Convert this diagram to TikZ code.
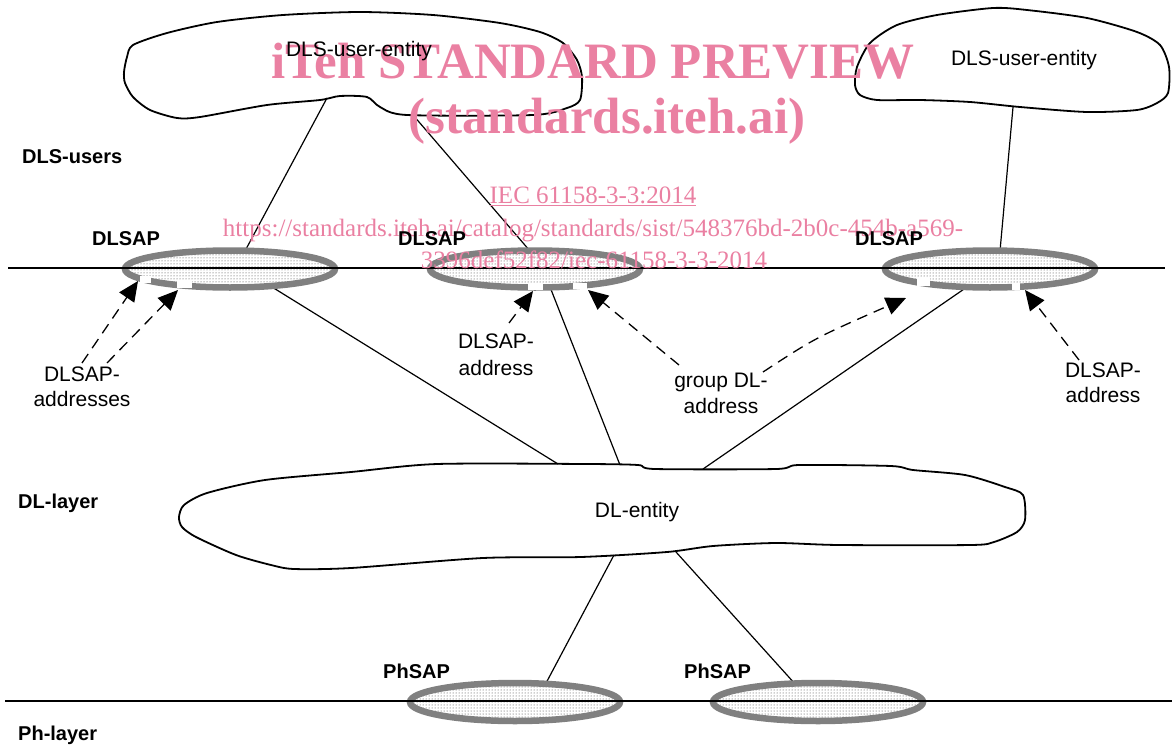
\documentclass[tikz,border=0pt]{standalone}
\usepackage{fontspec}
\setmainfont{Liberation Sans}
\newfontfamily\wmfont{Liberation Serif}
\usetikzlibrary{shapes.geometric,patterns,arrows.meta}
\definecolor{sapgray}{RGB}{128,128,128}
\definecolor{wmpink}{RGB}{234,128,162}
\begin{document}
\begin{tikzpicture}[x=1pt,y=-1pt,
  cloudline/.style={draw=black,line width=1.8pt,line join=round},
  conn/.style={draw=black,line width=1.2pt},
  layerline/.style={draw=black,line width=1.4pt},
  sap/.style={ellipse,draw=sapgray,line width=6.5pt,pattern=dots,pattern color=black!80,
    minimum width=210pt,minimum height=37pt,inner sep=0pt},
  gapbox/.style={fill=white,draw=none},
  addr/.style={draw=black,line width=1.3pt,dash pattern=on 11pt off 7pt,
    -{Triangle[length=20pt,width=18pt]}},
  lbl/.style={font=\fontsize{21}{26}\selectfont,inner sep=0pt,anchor=base},
  blbl/.style={font=\fontsize{20}{24}\selectfont\bfseries,inner sep=0pt,anchor=base west},
  wm/.style={text=wmpink,inner sep=0pt,anchor=base},
]
\useasboundingbox (0,0) rectangle (1172,744);

% ---- clouds ----
\draw[cloudline] plot[smooth cycle,tension=0.45] coordinates {
 (124,72) (127,57) (133,45) (167,33) (217,22) (283,15) (360,12) (433,15) (500,23)
 (540,32) (563,43) (577,60) (582,77) (580,100) (567,108) (533,115) (407,115)
 (380,107) (367,97) (340,96) (320,100) (267,105) (200,117) (177,118) (150,110)
 (133,97) (125,83)};
\draw[cloudline] plot[smooth cycle,tension=0.45] coordinates {
 (855,85) (857,67) (870,43) (897,25) (937,15) (993,8) (1027,10) (1087,18)
 (1137,32) (1160,45) (1169,67) (1168,93) (1157,103) (1137,110) (1087,112)
 (1020,107) (970,102) (920,100) (877,100) (860,95)};
\draw[cloudline] plot[smooth cycle,tension=0.45] coordinates {
 (179,517) (184,505) (207,493) (265,480) (351,472) (437,464) (586,464) (638,465)
 (655,469) (776,469) (799,465) (891,466) (913,470) (965,475) (1005,487)
 (1023,495) (1025,520) (1017,532) (994,542) (971,545) (839,545) (776,543)
 (713,546) (667,552) (581,557) (483,558) (351,568) (294,569) (271,565)
 (236,555) (196,537) (182,527)};

% ---- connector end points ----
\coordinate (u1a) at (327,98);
\coordinate (u1b) at (413,115);
\coordinate (u2a) at (1013,107);
\coordinate (s1t) at (245,251);
\coordinate (s2t) at (530,251);
\coordinate (s3t) at (1000,251);
\coordinate (s1b) at (272,287);
\coordinate (s2b) at (550,287);
\coordinate (s3b) at (967,287);
\coordinate (dla) at (558,464);
\coordinate (dlb) at (620,465);
\coordinate (dlc) at (703,469);
\coordinate (dld) at (614,555);
\coordinate (dle2) at (676,552);
\coordinate (p1t) at (545,685);
\coordinate (p2t) at (796,685);

\draw[conn] (u1a) -- (s1t);
\draw[conn] (u1b) -- (s2t);
\draw[conn] (u2a) -- (s3t);
\draw[conn] (s1b) -- (dla);
\draw[conn] (s2b) -- (dlb);
\draw[conn] (s3b) -- (dlc);
\draw[conn] (dld) -- (p1t);
\draw[conn] (dle2) -- (p2t);

% ---- service access points ----
\node[sap] (sap1) at (230,269) {};
\node[sap] (sap2) at (535,269) {};
\node[sap] (sap3) at (990,269) {};
\node[sap,minimum height=38pt] (ph1) at (515,702) {};
\node[sap,minimum height=38pt] (ph2) at (818,702) {};

% white gaps where the address arrows meet the rings
\fill[gapbox] (140,276) rectangle (151,283);
\fill[gapbox] (177,281) rectangle (192,288);
\fill[gapbox] (528,283) rectangle (543,290);
\fill[gapbox] (573,283) rectangle (587,289);
\fill[gapbox] (917,278) rectangle (930,286);
\fill[gapbox] (1012,283) rectangle (1020,290);

% ---- layer boundaries ----
\coordinate (hl1a) at (8,268);
\coordinate (hl1b) at (1165,268);
\coordinate (hl2a) at (5,701);
\coordinate (hl2b) at (1172,701);
\draw[layerline] (hl1a) -- (hl1b);
\draw[layerline] (hl2a) -- (hl2b);

% ---- address arrows ----
\coordinate (a1s) at (82,363);  \coordinate (a1e) at (138,281);
\coordinate (a2s) at (107,363); \coordinate (a2e) at (178,290);
\coordinate (a3s) at (509,323); \coordinate (a3e) at (533,291);
\coordinate (a4s) at (679,365); \coordinate (a4e) at (588,290);
\coordinate (a5s) at (763,372); \coordinate (a5e) at (906,298);
\coordinate (a6s) at (1079,360);\coordinate (a6e) at (1025,290);
\draw[addr] (a1s) -- (a1e);
\draw[addr] (a2s) -- (a2e);
\draw[addr] (a3s) -- (a3e);
\draw[addr] (a4s) -- (a4e);
\draw[addr] (a5s) .. controls (815,338) .. (a5e);
\draw[addr] (a6s) -- (a6e);

% ---- watermark ----
\node[wm,font=\wmfont\bfseries\fontsize{51}{60}\selectfont] (wm1) at (593,78) {iTeh STANDARD PREVIEW};
\node[wm,font=\wmfont\bfseries\fontsize{51}{60}\selectfont] (wm2) at (607,133) {(standards.iteh.ai)};
\node[wm,font=\wmfont\fontsize{25}{30}\selectfont] (wm3) at (593,203) {\underline{IEC 61158-3-3:2014}};
\node[wm,font=\wmfont\fontsize{25}{30}\selectfont] (wm4) at (593,236) {https://standards.iteh.ai/catalog/standards/sist/548376bd-2b0c-454b-a569-};
\node[wm,font=\wmfont\fontsize{25}{30}\selectfont] (wm5) at (594,268) {3396def52f82/iec-61158-3-3-2014};

% ---- labels ----
\node[lbl] (ue1) at (359,56) {DLS-user-entity};
\node[lbl] (ue2) at (1024,65) {DLS-user-entity};
\node[lbl] (dle) at (637,517) {DL-entity};

\node[blbl] (lusers) at (22,163) {DLS-users};
\node[blbl] (ldl) at (18,508) {DL-layer};
\node[blbl] (lph) at (18,740) {Ph-layer};
\node[blbl] (lsap1) at (92,245) {DLSAP};
\node[blbl] (lsap2) at (398,245) {DLSAP};
\node[blbl] (lsap3) at (855,245) {DLSAP};
\node[blbl] (lph1) at (383,678) {PhSAP};
\node[blbl] (lph2) at (684,678) {PhSAP};

\node[lbl] (t1a) at (82,381) {DLSAP-};
\node[lbl] (t1b) at (82,406) {addresses};
\node[lbl] (t2a) at (496,348) {DLSAP-};
\node[lbl] (t2b) at (496,375) {address};
\node[lbl] (t3a) at (721,387) {group DL-};
\node[lbl] (t3b) at (721,413) {address};
\node[lbl] (t4a) at (1103,377) {DLSAP-};
\node[lbl] (t4b) at (1103,402) {address};
\end{tikzpicture}
\end{document}
